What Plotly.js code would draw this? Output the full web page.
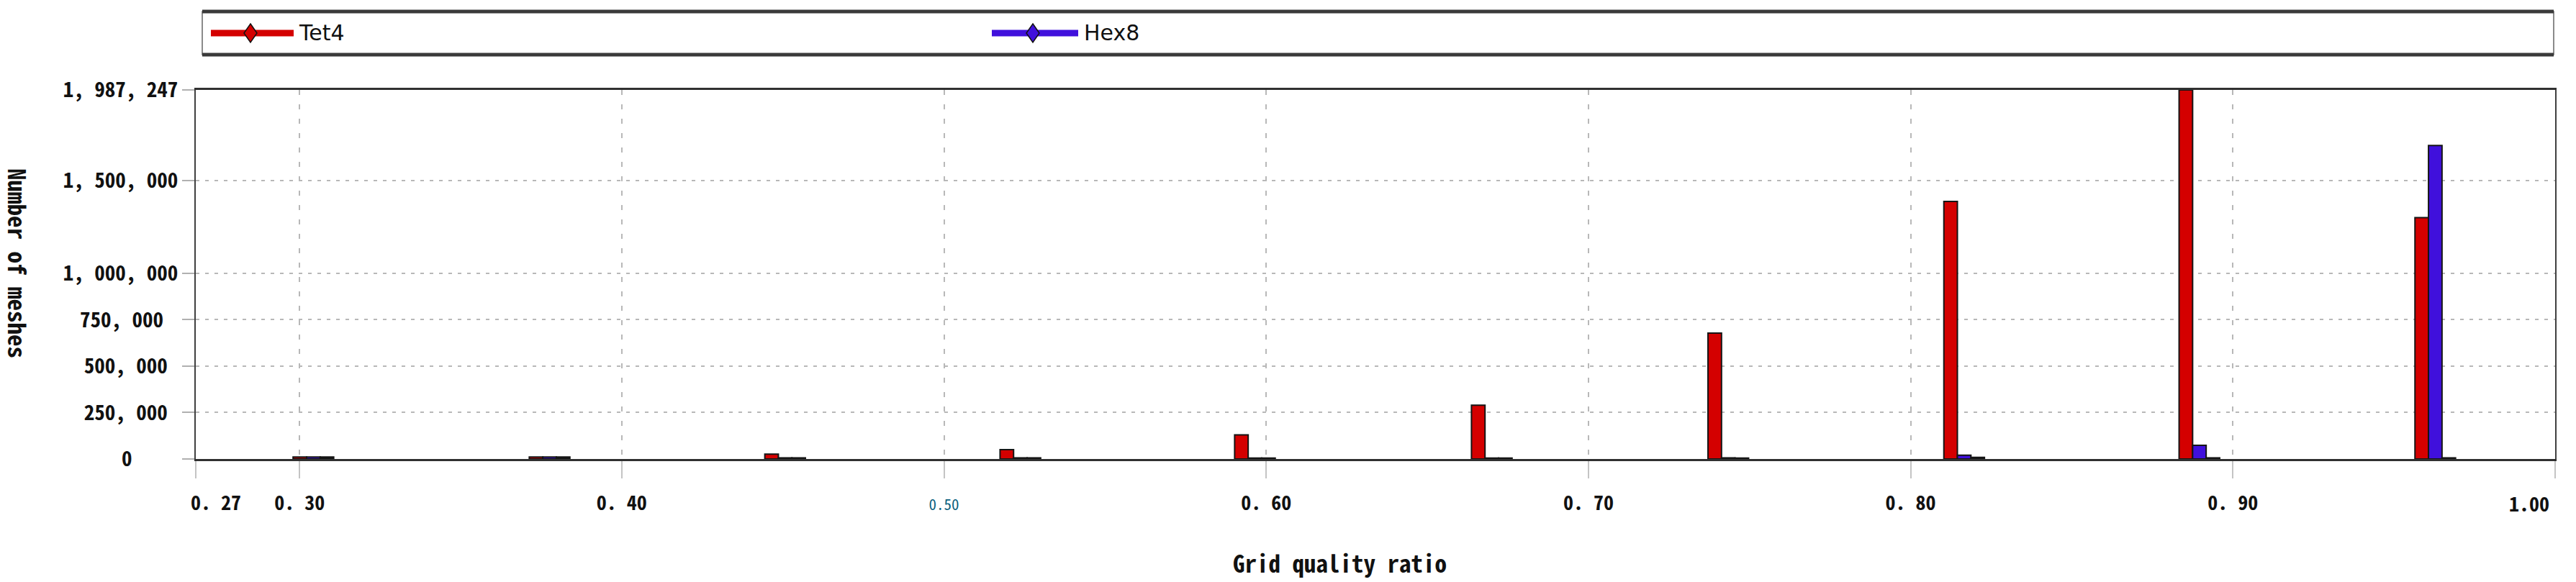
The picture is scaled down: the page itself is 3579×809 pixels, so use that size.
<!DOCTYPE html>
<html>
<head>
<meta charset="utf-8">
<script src="https://cdn.plot.ly/plotly-3.0.1.min.js"></script>
<style>
  html, body { margin: 0; padding: 0; background: #ffffff; }
  #chart { width: 3579px; height: 809px; }
</style>
</head>
<body>
<div id="chart"></div>
<script>
// ---- data ----
const binCenters = [0.3043, 0.3776, 0.4507, 0.5237, 0.5965, 0.6700, 0.7434, 0.8166, 0.8896, 0.9628];
const tet4  = [11000, 11000, 26000, 50000, 130000, 290000, 678000, 1387000, 1987247, 1300000];
const hex8  = [11000, 11000, 6000, 6000, 5000, 5000, 6000, 20000, 74000, 1688000];
const other = [11000, 11000, 6000, 6000, 5000, 5000, 5000, 9000, 6000, 6000];
const seriesNames = ["Tet4", "Hex8", "Other"];

const xTickVals = [0.2678, 0.30, 0.40, 0.50, 0.60, 0.70, 0.80, 0.90, 1.00];
const xTickText = ["\u00a0\u00a0\u00a0\u00a00. 27", "0. 30", "0. 40",
  '<span style="font-size:21px;color:#0b5f7e;font-weight:normal">0.50</span>',
  "0. 60", "0. 70", "0. 80", "0. 90", ""];
const lastTickLabel = "1.00";   // drawn just inside the right edge so it is not clipped
const yTickVals = [0, 250000, 500000, 750000, 1000000, 1500000, 1987247];
const yTickText = ["0\u00a0\u00a0\u00a0\u00a0\u2009", "250, 000\u00a0", "500, 000\u00a0", "750, 000\u00a0\u2009",
  "1, 000, 000", "1, 500, 000", "1, 987, 247"];
const yMax = 1987247;

// ---- styles ----
const MONO = '"Noto Sans Mono CJK SC", "Liberation Mono", "DejaVu Sans Mono", monospace';
const NARROW = '"DejaVu Sans", "Noto Sans", sans-serif';
const RED = '#d40000';
const BLUE = '#4010dc';
const BW = 0.0042;

function barTrace(name, y, color, offset) {
  return {
    type: 'bar', name: name, x: binCenters, y: y,
    width: BW, offset: offset, showlegend: false,
    marker: { color: color, line: { color: '#151515', width: 2 } },
    hovertemplate: name + ': %{y}<extra></extra>'
  };
}

const data = [
  barTrace(seriesNames[0], tet4, RED, -1.5 * BW),
  barTrace(seriesNames[1], hex8, BLUE, -0.5 * BW),
  barTrace(seriesNames[2], other, '#151515', 0.5 * BW)
];

// plot area in pixels: left 272, right 3550, top 125, bottom 638
const PL = 272, PR = 3550, PT = 125, PB = 638;
const px = v => (v - PL) / (PR - PL);
const py = v => (PB - v) / (PB - PT);

function diamond(cx, cy, fill) {
  return {
    type: 'path', xref: 'paper', yref: 'paper', xsizemode: 'pixel', ysizemode: 'pixel',
    xanchor: px(cx), yanchor: py(cy),
    path: 'M0,13 L9,0 L0,-13 L-9,0 Z',
    fillcolor: fill, line: { color: '#111', width: 1.5 }, layer: 'above'
  };
}

const shapes = [
  // legend box
  { type: 'rect', xref: 'paper', yref: 'paper', x0: px(281), x1: px(3548), y0: py(76), y1: py(16),
    line: { color: '#666', width: 1.5 }, fillcolor: 'rgba(0,0,0,0)', layer: 'above' },
  { type: 'line', xref: 'paper', yref: 'paper', x0: px(281), x1: px(3548), y0: py(16), y1: py(16),
    line: { color: '#3a3a3a', width: 5 } },
  { type: 'line', xref: 'paper', yref: 'paper', x0: px(281), x1: px(3548), y0: py(76), y1: py(76),
    line: { color: '#3a3a3a', width: 5 } },
  // legend line symbols
  { type: 'line', xref: 'paper', yref: 'paper', x0: px(293), x1: px(408), y0: py(46), y1: py(46),
    line: { color: RED, width: 9 } },
  { type: 'line', xref: 'paper', yref: 'paper', x0: px(1378), x1: px(1498), y0: py(46), y1: py(46),
    line: { color: BLUE, width: 9 } },
  diamond(348, 46, RED),
  diamond(1435, 46, BLUE)
];

const legendFont = { family: NARROW, size: 30, color: '#111', stretch: 'condensed' };
const tickFontX = { family: MONO, size: 28, color: '#111', weight: 'bold' };
const annotations = [
  { xref: 'paper', yref: 'paper', x: px(413), y: py(45), xanchor: 'left', yanchor: 'middle',
    text: seriesNames[0], showarrow: false, font: legendFont },
  { xref: 'paper', yref: 'paper', x: px(1504), y: py(45), xanchor: 'left', yanchor: 'middle',
    text: seriesNames[1], showarrow: false, font: legendFont },
  // last x tick label, kept inside the page
  { xref: 'x', yref: 'paper', x: xTickVals[xTickVals.length - 1], xshift: -6, y: py(699),
    xanchor: 'right', yanchor: 'middle', text: lastTickLabel, showarrow: false, font: tickFontX },
  // axis titles
  { xref: 'paper', yref: 'paper', x: px(1861), y: py(782), xanchor: 'center', yanchor: 'middle',
    text: 'Grid quality ratio', showarrow: false,
    font: { family: MONO, size: 33, color: '#111', weight: 'bold' } },
  { xref: 'paper', yref: 'paper', x: px(25), y: py(366), xanchor: 'center', yanchor: 'middle',
    text: 'Number of meshes', showarrow: false, textangle: 90,
    font: { family: MONO, size: 33, color: '#111', weight: 'bold' } }
];

const layout = {
  width: 3579, height: 809,
  margin: { l: PL, r: 3579 - PR, t: PT, b: 809 - PB, pad: 0 },
  paper_bgcolor: '#ffffff', plot_bgcolor: '#ffffff',
  barmode: 'overlay',
  showlegend: false,
  xaxis: {
    range: [0.2678, 1.0], autorange: false,
    tickmode: 'array', tickvals: xTickVals, ticktext: xTickText,
    showgrid: true, gridcolor: '#b8b8b8', gridwidth: 2, griddash: '7px,13px',
    zeroline: false, showline: true, linecolor: '#303030', linewidth: 3, mirror: true,
    ticks: 'outside', ticklen: 24, tickcolor: '#c4c4c4', tickwidth: 2,
    ticklabelstandoff: 10,
    tickfont: tickFontX
  },
  yaxis: {
    range: [0, yMax], autorange: false,
    tickmode: 'array', tickvals: yTickVals, ticktext: yTickText,
    showgrid: true, gridcolor: '#b8b8b8', gridwidth: 2, griddash: '5px,8px',
    zeroline: false, showline: true, linecolor: '#404040', linewidth: 2, mirror: true,
    ticks: 'outside', ticklen: 17, tickcolor: '#b0b0b0', tickwidth: 2,
    tickfont: { family: MONO, size: 29, color: '#111', weight: 'bold' }
  },
  shapes: shapes,
  annotations: annotations
};

Plotly.newPlot('chart', data, layout, { displayModeBar: false, responsive: false });
</script>
</body>
</html>
